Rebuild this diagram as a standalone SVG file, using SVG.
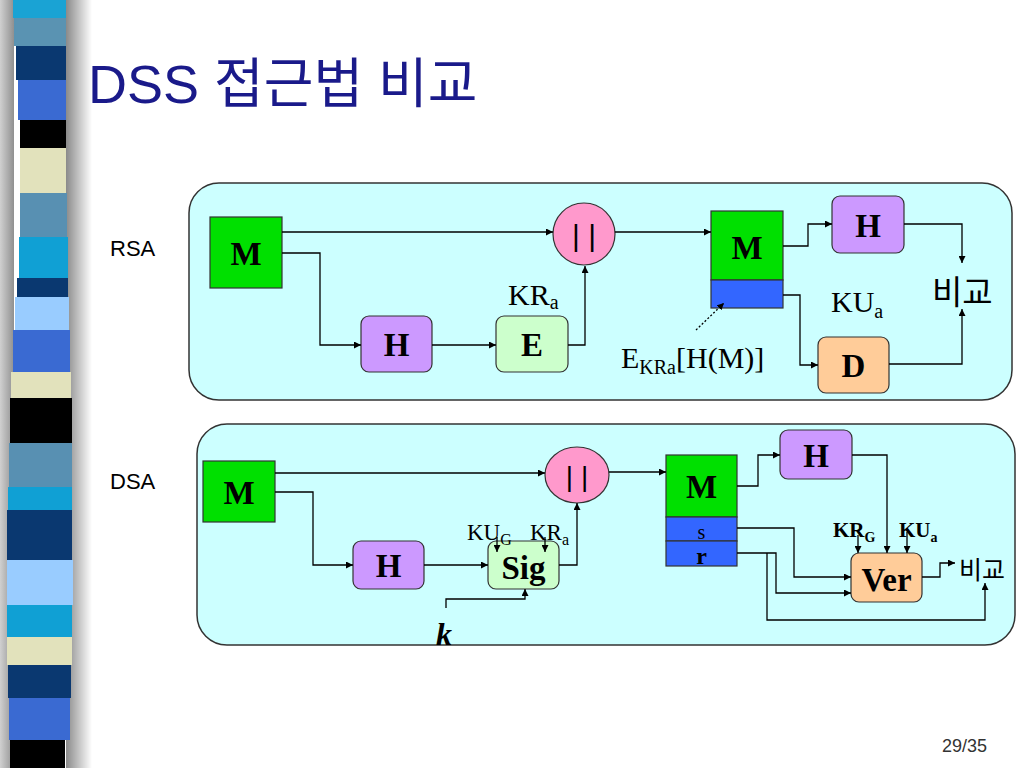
<svg xmlns="http://www.w3.org/2000/svg" width="1024" height="768" viewBox="0 0 1024 768">
<defs>
<linearGradient id="shR" x1="0" x2="1" y1="0" y2="0"><stop offset="0" stop-color="#8a8a8a"/><stop offset="1" stop-color="#ffffff"/></linearGradient>
<linearGradient id="shL" x1="0" x2="1" y1="0" y2="0"><stop offset="0" stop-color="#d0d0d0"/><stop offset="1" stop-color="#909090"/></linearGradient>
<marker id="ar" viewBox="0 0 10 10" refX="10" refY="5" markerWidth="7" markerHeight="7" markerUnits="userSpaceOnUse" orient="auto"><path d="M0,0 L10,5 L0,10 z" fill="#000"/></marker>
</defs>
<style>
.panel{fill:#ccffff;stroke:#333;stroke-width:1.5}
.bx{stroke:#333;stroke-width:1.2}
.green{fill:#00e000}
.blue{fill:#3366ff}
.purple{fill:#cc99ff}
.lg{fill:#ccffcc}
.org{fill:#ffcc99}
.pink{fill:#ff99cc}
.lbl{font-family:"Liberation Serif",serif;font-weight:bold;font-size:33px;fill:#000;text-anchor:middle}
.ser{font-family:"Liberation Serif",serif;fill:#000}
.sans{font-family:"Liberation Sans","Noto Sans CJK KR",sans-serif;fill:#000}
.c{fill:none;stroke:#000;stroke-width:1.3}
</style>
<rect width="1024" height="768" fill="#fff"/>
<g id="stripes">
<rect x="0" y="0" width="14" height="768" fill="url(#shL)"/>
<rect x="66" y="0" width="26" height="768" fill="url(#shR)"/>
<rect x="13" y="0" width="53" height="18" fill="#1aa3d4"/>
<rect x="14" y="18" width="52" height="28" fill="#5a93b2"/>
<rect x="16" y="46" width="50" height="34" fill="#0a3870"/>
<rect x="18" y="80" width="48" height="40" fill="#3a6ad2"/>
<rect x="20" y="120" width="46" height="28" fill="#000"/>
<rect x="20" y="148" width="46" height="45" fill="#e2e2bc"/>
<rect x="20" y="193" width="47" height="44" fill="#5890b2"/>
<rect x="19" y="237" width="49" height="41" fill="#10a0d4"/>
<rect x="17" y="278" width="51" height="19" fill="#0a3870"/>
<rect x="15" y="297" width="54" height="33" fill="#99ccff"/>
<rect x="13" y="330" width="57" height="42" fill="#3a6ad2"/>
<rect x="11" y="372" width="60" height="26" fill="#e2e2bc"/>
<rect x="10" y="398" width="62" height="45" fill="#000"/>
<rect x="9" y="443" width="63" height="44" fill="#5890b2"/>
<rect x="8" y="487" width="64" height="23" fill="#10a0d4"/>
<rect x="7" y="510" width="65" height="50" fill="#0a3870"/>
<rect x="7" y="560" width="66" height="45" fill="#99ccff"/>
<rect x="7" y="605" width="65" height="32" fill="#10a0d4"/>
<rect x="7" y="637" width="65" height="28" fill="#e2e2bc"/>
<rect x="8" y="665" width="63" height="33" fill="#0a3870"/>
<rect x="9" y="698" width="61" height="42" fill="#3a6ad2"/>
<rect x="10" y="740" width="55" height="28" fill="#000"/>
</g>
<text x="88" y="103" font-family="Liberation Sans,Noto Sans CJK KR,sans-serif" font-size="54" fill="#1a1a8a">DSS 접근법 비교</text>
<text x="110" y="256" class="sans" font-size="22">RSA</text>
<text x="110" y="489" class="sans" font-size="22">DSA</text>
<text x="987" y="752" class="sans" font-size="18" text-anchor="end" style="fill:#333">29/35</text>

<rect id="rsa-panel" class="panel" x="189" y="183" width="823" height="217" rx="30"/>
<rect id="dsa-panel" class="panel" x="197" y="424" width="818" height="221" rx="30"/>

<g id="rsa-M1"><rect class="bx green" x="210" y="217" width="72" height="71"/><text class="lbl" x="246" y="265">M</text></g>
<g id="rsa-H1"><rect class="bx purple" x="361" y="316" width="71" height="56" rx="8"/><text class="lbl" x="396.5" y="356">H</text></g>
<g id="rsa-E"><rect class="bx lg" x="496" y="316" width="72" height="56" rx="8"/><text class="lbl" x="532" y="356">E</text></g>
<g id="rsa-concat"><circle class="bx pink" cx="584" cy="234" r="31"/><text class="sans" x="584" y="246" font-size="30" text-anchor="middle">| |</text></g>
<g id="rsa-M2"><rect class="bx green" x="711" y="211" width="72" height="69"/><rect class="bx blue" x="711" y="280" width="72" height="28"/><text class="lbl" x="747" y="259">M</text></g>
<g id="rsa-H2"><rect class="bx purple" x="832" y="196" width="72" height="57" rx="8"/><text class="lbl" x="868" y="237">H</text></g>
<g id="rsa-D"><rect class="bx org" x="818" y="337" width="71" height="56" rx="8"/><text class="lbl" x="853.5" y="377">D</text></g>
<g id="rsa-cmp"><text class="sans" x="932" y="304" font-size="33">비교</text></g>
<text class="ser" x="508" y="305" font-size="30">KR<tspan font-size="20" dy="4">a</tspan></text>
<text class="ser" x="831" y="312" font-size="30">KU<tspan font-size="20" dy="6">a</tspan></text>
<text class="ser" x="621" y="368" font-size="30">E<tspan font-size="20" dy="6">KRa</tspan><tspan dy="-6">[H(M)]</tspan></text>

<g id="dsa-M1"><rect class="bx green" x="203" y="461" width="72" height="61"/><text class="lbl" x="239" y="504">M</text></g>
<g id="dsa-H1"><rect class="bx purple" x="353" y="541" width="71" height="48" rx="8"/><text class="lbl" x="388.5" y="577">H</text></g>
<g id="dsa-Sig"><rect class="bx lg" x="488" y="541" width="71" height="48" rx="8"/><text class="lbl" x="523.5" y="579">Sig</text></g>
<g id="dsa-concat"><ellipse class="bx pink" cx="577" cy="475" rx="32" ry="28"/><text class="sans" x="577" y="486" font-size="28" text-anchor="middle">| |</text></g>
<g id="dsa-M2"><rect class="bx green" x="666" y="455" width="71" height="62"/><rect class="bx blue" x="666" y="517" width="71" height="24"/><rect class="bx blue" x="666" y="541" width="71" height="25"/><text class="lbl" x="701.5" y="498">M</text><text class="ser" x="701.5" y="539" font-size="20" text-anchor="middle">s</text><text class="ser" x="701.5" y="564" font-size="24" font-weight="bold" text-anchor="middle">r</text></g>
<g id="dsa-H2"><rect class="bx purple" x="780" y="430" width="72" height="49" rx="8"/><text class="lbl" x="816" y="467">H</text></g>
<g id="dsa-Ver"><rect class="bx org" x="851" y="553" width="71" height="49" rx="8"/><text class="lbl" x="886.5" y="591">Ver</text></g>
<g id="dsa-cmp"><text class="sans" x="959" y="579" font-size="25">비교</text></g>
<text class="ser" x="467" y="540" font-size="23">KU<tspan font-size="16" dy="5">G</tspan></text>
<text class="ser" x="530" y="540" font-size="23">KR<tspan font-size="16" dy="5">a</tspan></text>
<text class="ser" x="833" y="537" font-size="21" font-weight="bold">KR<tspan font-size="14" dy="5">G</tspan></text>
<text class="ser" x="899" y="537" font-size="21" font-weight="bold">KU<tspan font-size="14" dy="5">a</tspan></text>
<text class="ser" x="436" y="645" font-size="32" font-weight="bold" font-style="italic">k</text>

<g id="connectors">
<path class="c" d="M282,232 H553" marker-end="url(#ar)"/>
<path class="c" d="M282,253 H320 V345 H361" marker-end="url(#ar)"/>
<path class="c" d="M432,345 H496" marker-end="url(#ar)"/>
<path class="c" d="M568,345 H585 V266" marker-end="url(#ar)"/>
<path class="c" d="M615,232 H711" marker-end="url(#ar)"/>
<path class="c" d="M783,246 H808 V224 H832" marker-end="url(#ar)"/>
<path class="c" d="M904,224 H962 V263" marker-end="url(#ar)"/>
<path class="c" d="M783,295 H800 V365 H818" marker-end="url(#ar)"/>
<path class="c" d="M889,364 H962 V309" marker-end="url(#ar)"/>
<path class="c" d="M696,330 L724,303" stroke-dasharray="2,2" marker-end="url(#ar)"/>
<path class="c" d="M275,473 H545" marker-end="url(#ar)"/>
<path class="c" d="M275,492 H313 V565 H353" marker-end="url(#ar)"/>
<path class="c" d="M424,565 H488" marker-end="url(#ar)"/>
<path class="c" d="M559,565 H577 V503" marker-end="url(#ar)"/>
<path class="c" d="M446,608 V599 H525 V589" marker-end="url(#ar)"/>
<path class="c" d="M497,537 V552" marker-end="url(#ar)"/>
<path class="c" d="M545,537 V552" marker-end="url(#ar)"/>
<path class="c" d="M609,472 H666" marker-end="url(#ar)"/>
<path class="c" d="M737,486 H758 V455 H780" marker-end="url(#ar)"/>
<path class="c" d="M852,455 H887 V553" marker-end="url(#ar)"/>
<path class="c" d="M737,528 H794 V577 H851" marker-end="url(#ar)"/>
<path class="c" d="M737,553 H776 V593 H851" marker-end="url(#ar)"/>
<path class="c" d="M767,553 V620 H985 V583" marker-end="url(#ar)"/>
<path class="c" d="M858,535 V553" marker-end="url(#ar)"/>
<path class="c" d="M907,532 V553" marker-end="url(#ar)"/>
<path class="c" d="M922,577 H940 V563 H955" marker-end="url(#ar)"/>
</g>
</svg>
